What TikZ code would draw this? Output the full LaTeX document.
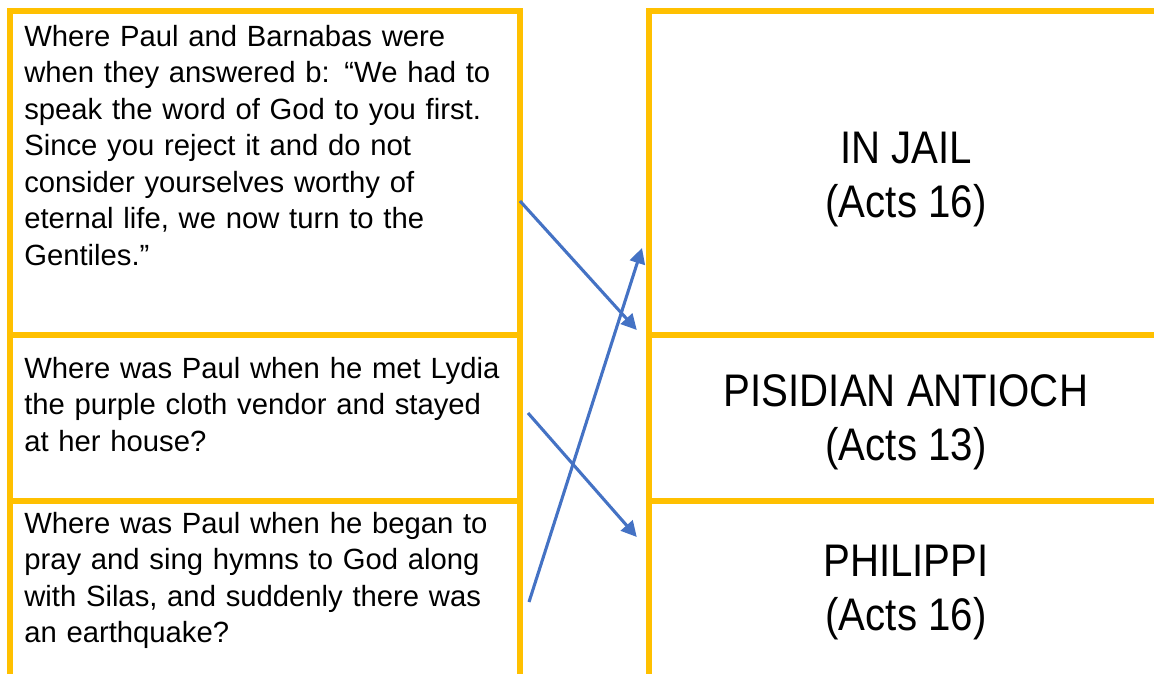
\documentclass[tikz,border=0pt]{standalone}
\usepackage{fontspec}
\setmainfont{Liberation Sans}
\newfontfamily\answerfont[FakeStretch=0.88]{Liberation Sans}
\usetikzlibrary{positioning,arrows.meta}

\definecolor{cardgold}{HTML}{FFC000}
\definecolor{linkblue}{HTML}{4472C4}

\tikzset{
    card/.style={draw=cardgold, line width=4pt, rectangle, inner sep=0pt, outer sep=0pt, anchor=north west},
    question/.style={anchor=base west, text width=12.3cm, align=left, inner sep=0pt, font=\fontsize{20.8}{26}\selectfont},
    answer/.style={anchor=base, align=center, inner sep=0pt, font=\answerfont\fontsize{32.5}{38.4}\selectfont},
    link/.style={draw=linkblue, line width=2.2pt, -{Triangle[length=11pt,width=11pt]}}
}

\begin{document}
\begin{tikzpicture}
    \useasboundingbox (0,0) rectangle (28.85,-16.85);
    \clip (0,0) rectangle (28.85,-16.85);

    % question cards
    \node[card, minimum width=12.75cm, minimum height=8.1cm] (QuestionA) at (0.25,-0.275) {};
    \node[card, minimum width=12.75cm, minimum height=4.15cm] (QuestionB) at (0.25,-8.375) {};
    \node[card, minimum width=12.75cm, minimum height=5cm] (QuestionC) at (0.25,-12.525) {};

    % answer cards
    \node[card, minimum width=13.5cm, minimum height=8.1cm] (AnswerJail) at (16.225,-0.275) {};
    \node[card, minimum width=13.5cm, minimum height=4.15cm] (AnswerAntioch) at (16.225,-8.375) {};
    \node[card, minimum width=13.5cm, minimum height=5cm] (AnswerPhilippi) at (16.225,-12.525) {};

    \node[question] (TextA) at (0.6,-1.15) {Where Paul and Barnabas were\\when they answered b: “We had to\\speak the word of God to you first.\\Since you reject it and do not\\consider yourselves worthy of\\eternal life, we now turn to the\\Gentiles.”};
    \node[question] (TextB) at (0.6,-9.45) {Where was Paul when he met Lydia\\the purple cloth vendor and stayed\\at her house?};
    \node[question] (TextC) at (0.6,-13.325) {Where was Paul when he began to\\pray and sing hymns to God along\\with Silas, and suddenly there was\\an earthquake?};

    \node[answer] (TextJail) at (22.65,-5.425) {IN JAIL\\(Acts 16)};
    \node[answer] (TextAntioch) at (22.65,-11.5) {PISIDIAN ANTIOCH\\(Acts 13)};
    \node[answer] (TextPhilippi) at (22.65,-15.75) {PHILIPPI\\(Acts 16)};

    % matching arrows
    \coordinate (FromA) at (13.0,-5.025);
    \coordinate (ToA) at (15.92,-8.25);
    \coordinate (FromB) at (13.2,-10.325);
    \coordinate (ToB) at (15.92,-13.425);
    \coordinate (FromC) at (13.225,-15.05);
    \coordinate (ToC) at (16.05,-6.2);

    \draw[link] (FromA) -- (ToA);
    \draw[link] (FromB) -- (ToB);
    \draw[link] (FromC) -- (ToC);

\end{tikzpicture}
\end{document}
